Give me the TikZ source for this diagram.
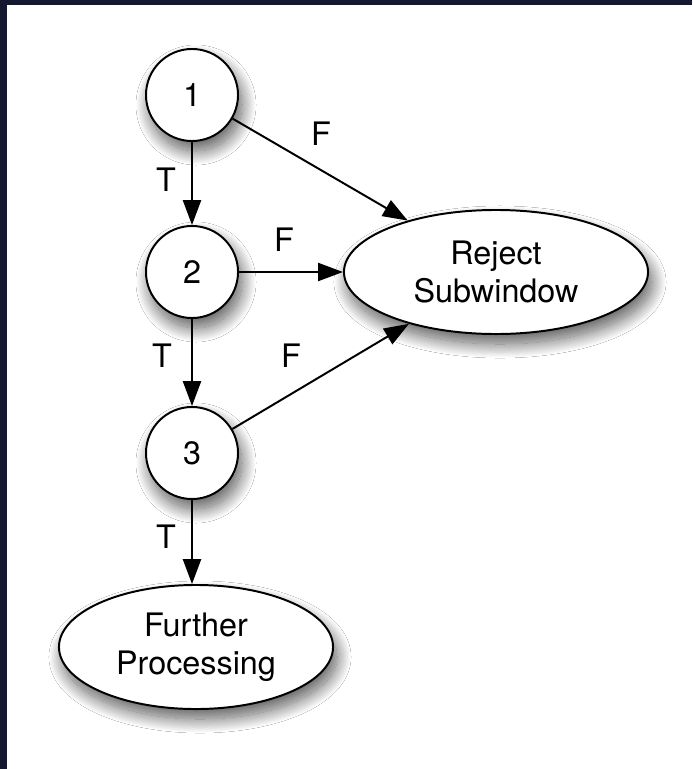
\documentclass[tikz,border=0pt]{standalone}
\usepackage{fontspec}
\setmainfont{TeX Gyre Heros}
\usetikzlibrary{arrows.meta,shapes.geometric,shadows.blur}
\definecolor{frame}{RGB}{20,25,48}
\tikzset{
    soft/.style={blur shadow={shadow xshift=0.1cm,shadow yshift=-0.25cm,shadow blur radius=0.35cm,
        shadow blur steps=30,shadow opacity=65}},
    stage/.style={circle,draw,line width=1.4pt,fill=white,minimum size=2.3cm,inner sep=0pt,soft},
    outcome/.style={ellipse,draw,line width=1.4pt,fill=white,minimum height=3.1cm,align=center,inner sep=0pt,soft},
    flow/.style={line width=1.4pt,-{Triangle[length=0.62cm,width=0.45cm]}},
    tag/.style={inner sep=0pt}
}
\begin{document}
\begin{tikzpicture}[x=0.025cm,y=-0.025cm,font=\fontsize{23}{27}\selectfont]
        \fill [frame] (0,0) rectangle (692,769);
        \fill [white] (7,5) rectangle (692,769);
        \useasboundingbox (0,0) rectangle (692,769);

        \node [stage] (s1) at (192,95) {1};
        \node [stage] (s2) at (192,272) {2};
        \node [stage] (s3) at (192,453) {3};
        \node [outcome,minimum width=7.6cm] (reject) at (496,272) {Reject\\Subwindow};
        \node [outcome,minimum width=6.85cm] (further) at (196,647) {Further\\Processing};

        \draw [flow] (s1) -- (s2);
        \draw [flow] (s2) -- (s3);
        \draw [flow] (s3) -- (s3 |- further.north);
        \draw [flow] (s1) -- (reject);
        \draw [flow] (s2) -- (reject);
        \draw [flow] (s3) -- (reject);

        \node [tag] (t1) at (166,180) {T};
        \node [tag] (t2) at (162,356) {T};
        \node [tag] (t3) at (166,537) {T};
        \node [tag] (f1) at (321,134) {F};
        \node [tag] (f2) at (284,240) {F};
        \node [tag] (f3) at (291,356) {F};

    \end{tikzpicture}
\end{document}
